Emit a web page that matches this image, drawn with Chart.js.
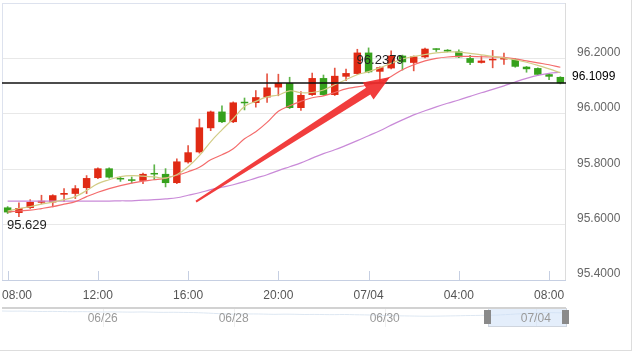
<!DOCTYPE html>
<html>
<head>
<meta charset="utf-8">
<script src="https://cdn.jsdelivr.net/npm/chart.js@4.4.0/dist/chart.umd.min.js"></script>
<style>
  body { margin: 0; background: #fff; }
  #wrap { position: relative; width: 631px; height: 350px; border-right: 1px solid #ddd; border-bottom: 1px solid #ddd; }
  #main { position: absolute; left: 0; top: 0; }
  #nav { position: absolute; left: 0; top: 300px; }
</style>
</head>
<body>
<div id="wrap">
  <canvas id="main" width="631" height="300"></canvas>
  <canvas id="nav" width="631" height="30"></canvas>
</div>
<script>
// 30 分钟 K 线 (07/03 08:00 -> 07/04 08:30)
const times = ['08:00','08:30','09:00','09:30','10:00','10:30','11:00','11:30','12:00','12:30',
  '13:00','13:30','14:00','14:30','15:00','15:30','16:00','16:30','17:00','17:30',
  '18:00','18:30','19:00','19:30','20:00','20:30','21:00','21:30','22:00','22:30',
  '23:00','23:30','07/04','00:30','01:00','01:30','02:00','02:30','03:00','03:30',
  '04:00','04:30','05:00','05:30','06:00','06:30','07:00','07:30','08:00','08:30'];

const opens = [95.662,95.642,95.660,95.679,95.680,95.708,95.711,95.732,95.768,95.803,
  95.768,95.762,95.758,95.783,95.783,95.750,95.825,95.861,95.948,96.008,
  95.970,96.040,96.039,96.059,96.095,96.111,96.021,96.068,96.129,96.068,
  96.134,96.144,96.221,96.152,96.164,96.210,96.184,96.204,96.234,96.231,
  96.225,96.201,96.184,96.193,96.196,96.198,96.170,96.165,96.143,96.133];
const highs = [95.665,95.679,95.690,95.706,95.708,95.730,95.741,95.777,95.805,95.805,
  95.774,95.772,95.786,95.816,95.802,95.837,95.885,95.981,96.010,96.029,
  96.043,96.057,96.084,96.144,96.143,96.132,96.080,96.147,96.140,96.165,
  96.161,96.233,96.2379,96.170,96.227,96.212,96.209,96.237,96.235,96.232,
  96.231,96.211,96.209,96.229,96.219,96.199,96.171,96.166,96.144,96.134];
const lows = [95.640,95.629,95.658,95.675,95.664,95.684,95.694,95.712,95.766,95.768,
  95.756,95.750,95.748,95.762,95.736,95.748,95.822,95.858,95.939,95.968,
  95.968,96.014,96.024,96.041,96.065,96.019,96.012,96.066,96.066,96.066,
  96.120,96.142,96.148,96.112,96.162,96.158,96.155,96.202,96.225,96.224,
  96.203,96.177,96.183,96.166,96.178,96.168,96.150,96.139,96.123,96.108];
const closes = [95.644,95.660,95.682,95.686,95.706,95.714,95.731,95.768,95.803,95.770,
  95.763,95.758,95.783,95.781,95.750,95.828,95.861,95.951,96.008,95.970,
  96.041,96.038,96.060,96.095,96.111,96.021,96.068,96.129,96.068,96.137,
  96.147,96.221,96.150,96.168,96.210,96.186,96.207,96.235,96.231,96.225,
  96.204,96.184,96.192,96.196,96.201,96.170,96.161,96.141,96.134,96.1099];

// 均线
const ma5 = [95.649,95.658,95.665,95.674,95.681,95.690,95.701,95.723,95.748,95.762,
  95.773,95.777,95.775,95.772,95.768,95.780,95.809,95.849,95.899,95.942,
  95.982,96.026,96.045,96.061,96.068,96.083,96.076,96.077,96.086,96.105,
  96.123,96.141,96.152,96.166,96.182,96.198,96.207,96.214,96.220,96.223,
  96.223,96.218,96.213,96.207,96.202,96.195,96.186,96.175,96.162,96.148];
const ma10 = [95.645,95.649,95.652,95.658,95.665,95.674,95.683,95.701,95.717,95.730,
  95.741,95.750,95.757,95.762,95.768,95.778,95.791,95.807,95.834,95.852,
  95.874,95.910,95.935,95.969,96.009,96.029,96.045,96.058,96.065,96.077,
  96.090,96.097,96.105,96.114,96.135,96.159,96.177,96.191,96.200,96.205,
  96.207,96.207,96.206,96.205,96.204,96.198,96.191,96.184,96.177,96.168];
const ma30 = [95.685,95.685,95.685,95.685,95.685,95.685,95.685,95.685,95.685,95.685,
  95.686,95.686,95.688,95.690,95.693,95.697,95.706,95.715,95.726,95.735,
  95.744,95.755,95.768,95.780,95.795,95.809,95.823,95.840,95.856,95.870,
  95.886,95.903,95.921,95.939,95.959,95.978,95.996,96.011,96.025,96.038,
  96.050,96.063,96.076,96.088,96.101,96.115,96.128,96.139,96.146,96.150];

// 箭头标注 [K线序号, 价格]
const arrowFrom = [16.7, 95.683];
const arrowTo = [33.9, 96.133];

// 导航条 (全部历史)
const navSeries = [96.42,96.40,96.41,96.38,96.36,96.37,96.35,96.33,96.34,96.32,
  96.30,96.31,96.29,96.28,96.30,96.27,96.25,96.26,96.24,96.22,
  96.18,96.12,96.06,96.02,96.04,96.05,96.03,96.00,96.02,96.01,
  95.98,95.99,95.97,95.96,95.98,95.95,95.93,95.90,95.86,95.82,
  95.80,95.78,95.76,95.77,95.79,95.81,95.84,95.86,95.88,95.90,
  95.96,96.04,96.10,96.16,96.22,96.20,96.18];
const navTicks = { 10: '06/26', 23: '06/28', 38: '06/30', 53: '07/04' };
const navRange = [48.3, 56];

const RED = '#e02a14';
const GREEN = '#36a11c';
const FONT = 'Liberation Sans, Arial, sans-serif';
Chart.defaults.font.family = FONT;

function candleColor(i, a) {
    const up = closes[i] >= opens[i];
    return up ? (a ? 'rgba(224,42,20,' + a + ')' : RED) : (a ? 'rgba(54,161,28,' + a + ')' : GREEN);
}

// 边框, 刻度线, 坐标文字
const framePlugin = {
    id: 'frame',
    beforeDatasetsDraw(chart) {
        const { ctx, chartArea: a, scales: { x, y } } = chart;
        ctx.save();
        ctx.lineWidth = 1;
        ctx.strokeStyle = '#dde2ee';
        ctx.beginPath();
        ctx.moveTo(a.left + 0.5, a.top); ctx.lineTo(a.left + 0.5, a.bottom);
        ctx.moveTo(a.left, a.top + 0.5); ctx.lineTo(a.right, a.top + 0.5);
        ctx.stroke();
        ctx.strokeStyle = '#dcdcdc';
        ctx.beginPath();
        ctx.moveTo(a.right - 0.5, a.top); ctx.lineTo(a.right - 0.5, a.bottom);
        ctx.stroke();
        ctx.strokeStyle = '#c6cfe2';
        ctx.beginPath();
        ctx.moveTo(a.left, a.bottom + 0.5); ctx.lineTo(a.right, a.bottom + 0.5);
        for (let i = 0; i < times.length; i += 8) {
            const px = Math.round(x.getPixelForValue(i)) + 0.5;
            ctx.moveTo(px, a.bottom - 9); ctx.lineTo(px, a.bottom);
        }
        ctx.stroke();

        ctx.font = '12px ' + FONT;
        ctx.fillStyle = '#555';
        ctx.textAlign = 'center';
        ctx.textBaseline = 'middle';
        for (let i = 0; i < times.length; i += 8) {
            const w = ctx.measureText(times[i]).width;
            let px = x.getPixelForValue(i);
            px = Math.max(px, a.left + w / 2);
            ctx.fillText(times[i], px, a.bottom + 16);
        }

        // 纵轴文字在网格线上方
        ctx.fillStyle = '#666';
        ctx.textAlign = 'left';
        y.ticks.forEach(t => {
            if (t.value > 96.39) return;
            ctx.fillText(t.value.toFixed(4), a.right + 11, y.getPixelForValue(t.value) - 6);
        });
        ctx.restore();
    }
};

// 当前价线, 最高/最低标记, 箭头
const overlayPlugin = {
    id: 'overlay',
    afterDatasetsDraw(chart) {
        const { ctx, chartArea: a, scales: { x, y } } = chart;
        ctx.save();

        const last = closes[closes.length - 1];
        const py = Math.round(y.getPixelForValue(last));
        ctx.strokeStyle = '#111';
        ctx.lineWidth = 1.5;
        ctx.beginPath();
        ctx.moveTo(a.left, py); ctx.lineTo(a.right, py);
        ctx.stroke();
        ctx.font = '12px ' + FONT;
        ctx.fillStyle = '#000';
        ctx.textAlign = 'left';
        ctx.textBaseline = 'middle';
        ctx.fillText(last.toFixed(4), a.right + 6, py - 6);

        // 最高 / 最低
        const lo = Math.min(...lows), hi = Math.max(...highs);
        const iLo = lows.indexOf(lo), iHi = highs.indexOf(hi);
        ctx.font = '13px ' + FONT;
        ctx.fillStyle = '#222';
        ctx.textBaseline = 'top';
        ctx.fillText(String(lo), x.getPixelForValue(iLo) - 12, y.getPixelForValue(lo) + 2);
        ctx.fillText(String(hi), x.getPixelForValue(iHi) - 12, y.getPixelForValue(hi) + 6);

        // 箭头
        const x0 = x.getPixelForValue(arrowFrom[0]), y0 = y.getPixelForValue(arrowFrom[1]);
        const x1 = x.getPixelForValue(arrowTo[0]), y1 = y.getPixelForValue(arrowTo[1]);
        const len = Math.hypot(x1 - x0, y1 - y0);
        const ux = (x1 - x0) / len, uy = (y1 - y0) / len;
        const nx = -uy, ny = ux;
        const headLen = 26, headW = 10, tailW = 1, neckW = 4;
        const bx = x1 - ux * headLen, by = y1 - uy * headLen;
        ctx.fillStyle = 'rgba(240,44,44,0.92)';
        ctx.beginPath();
        ctx.moveTo(x0 + nx * tailW, y0 + ny * tailW);
        ctx.lineTo(bx + nx * neckW, by + ny * neckW);
        ctx.lineTo(bx + nx * headW, by + ny * headW);
        ctx.lineTo(x1, y1);
        ctx.lineTo(bx - nx * headW, by - ny * headW);
        ctx.lineTo(bx - nx * neckW, by - ny * neckW);
        ctx.lineTo(x0 - nx * tailW, y0 - ny * tailW);
        ctx.closePath();
        ctx.fill();
        ctx.restore();
    }
};

const lineDs = (data, color) => ({
    type: 'line',
    data: data,
    borderColor: color,
    borderWidth: 1.2,
    pointRadius: 0,
    tension: 0.4,
    fill: false,
    order: 0
});

new Chart(document.getElementById('main').getContext('2d'), {
    type: 'bar',
    data: {
        labels: times,
        datasets: [
            lineDs(ma5, '#d2cc86'),
            lineDs(ma10, '#f46c6c'),
            lineDs(ma30, '#c98ad8'),
            {
                // 实体
                data: opens.map((o, i) => [o, closes[i]]),
                backgroundColor: ctx => candleColor(ctx.dataIndex),
                grouped: false,
                categoryPercentage: 1,
                barPercentage: 0.66,
                minBarLength: 1.5,
                borderWidth: 0,
                order: 1
            },
            {
                // 影线
                data: lows.map((l, i) => [l, highs[i]]),
                backgroundColor: ctx => candleColor(ctx.dataIndex, 0.8),
                grouped: false,
                barThickness: 1,
                borderWidth: 0,
                order: 2
            }
        ]
    },
    options: {
        responsive: false,
        animation: false,
        layout: { autoPadding: false, padding: { left: 2, top: 3, right: 0, bottom: 0 } },
        plugins: { legend: { display: false }, tooltip: { enabled: false } },
        scales: {
            x: {
                type: 'category',
                offset: true,
                grid: { display: false },
                border: { display: false },
                ticks: { display: false },
                afterFit: s => { s.height = 20; }
            },
            y: {
                position: 'right',
                min: 95.4,
                max: 96.4,
                grid: { color: '#e8e8e8', drawTicks: false },
                border: { display: false },
                ticks: { stepSize: 0.2, display: false },
                afterFit: s => { s.width = 65; }
            }
        }
    },
    plugins: [framePlugin, overlayPlugin]
});

// 导航条
const navPlugin = {
    id: 'navigator',
    beforeDatasetsDraw(chart) {
        const { ctx, chartArea: a, scales: { x } } = chart;
        ctx.save();
        ctx.strokeStyle = '#f0f0f0';
        ctx.lineWidth = 1;
        ctx.beginPath();
        Object.keys(navTicks).forEach(k => {
            const px = Math.round(x.getPixelForValue(+k)) + 0.5;
            ctx.moveTo(px, a.top); ctx.lineTo(px, a.bottom);
        });
        ctx.stroke();
        ctx.restore();
    },
    afterDatasetsDraw(chart) {
        const { ctx, chartArea: a, scales: { x } } = chart;
        ctx.save();
        const sx0 = x.getPixelForValue(navRange[0]), sx1 = x.getPixelForValue(navRange[1]);
        ctx.fillStyle = 'rgba(205,224,247,0.55)';
        ctx.fillRect(sx0, a.top, sx1 - sx0, a.bottom - a.top);
        ctx.strokeStyle = '#cfd5de';
        ctx.lineWidth = 1;
        ctx.strokeRect(Math.round(sx0) + 0.5, a.top + 0.5, Math.round(sx1 - sx0), a.bottom - a.top - 1);

        ctx.strokeStyle = '#d2d2d2';
        ctx.lineWidth = 2;
        ctx.beginPath();
        ctx.moveTo(a.left, a.top); ctx.lineTo(a.right, a.top);
        ctx.stroke();

        ctx.font = '12px ' + FONT;
        ctx.fillStyle = '#9a9a9a';
        ctx.textAlign = 'center';
        ctx.textBaseline = 'middle';
        Object.keys(navTicks).forEach(k => {
            ctx.fillText(navTicks[k], x.getPixelForValue(+k), a.top + 11);
        });

        ctx.fillStyle = '#8a8a8a';
        [sx0, sx1].forEach(px => ctx.fillRect(Math.round(px) - 4, a.top + 2, 7, 14));
        ctx.restore();
    }
};

new Chart(document.getElementById('nav').getContext('2d'), {
    type: 'line',
    data: {
        labels: navSeries.map((_, i) => navTicks[i] || ''),
        datasets: [{
            data: navSeries,
            borderColor: '#dde7f2',
            borderWidth: 1,
            pointRadius: 0,
            tension: 0.3,
            fill: false
        }]
    },
    options: {
        responsive: false,
        animation: false,
        layout: { autoPadding: false, padding: { left: 2, top: 8, right: 65, bottom: 3 } },
        plugins: { legend: { display: false }, tooltip: { enabled: false } },
        scales: {
            x: { display: false },
            y: { display: false, min: 94.4, max: 96.8 }
        }
    },
    plugins: [navPlugin]
});
</script>
</body>
</html>
